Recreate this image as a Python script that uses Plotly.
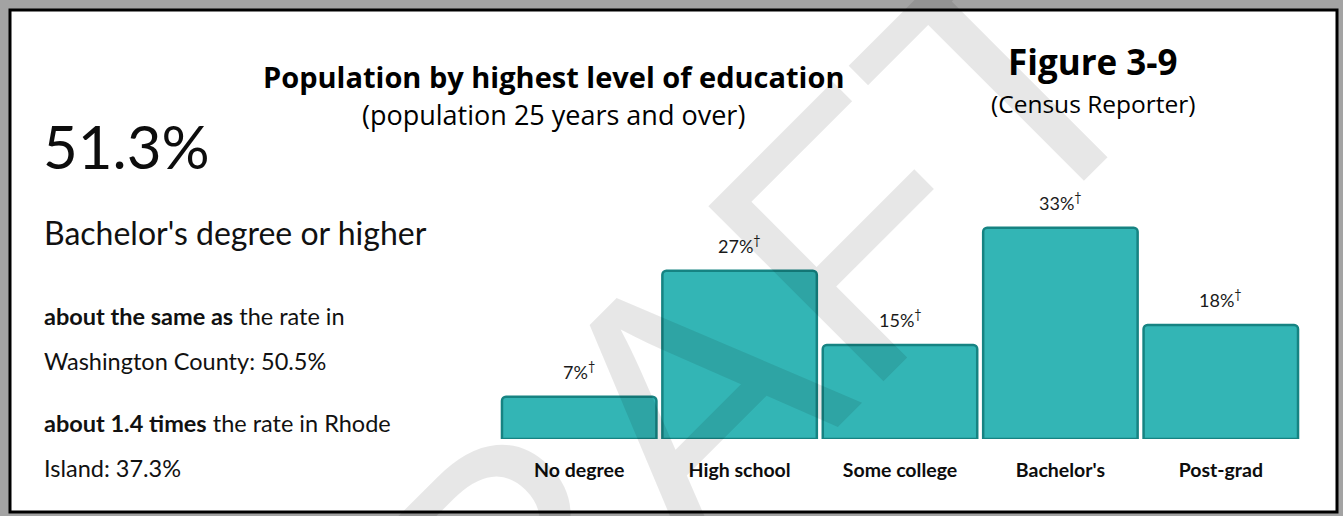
import plotly.graph_objects as go

W, H = 1343, 516

categories = ["No degree", "High school", "Some college", "Bachelor's", "Post-grad"]
values = [6.6, 26.3, 14.7, 33.0, 17.8]
value_labels = ["7%", "27%", "15%", "33%", "18%"]

headline_value = "51.3%"
headline_label = "Bachelor's degree or higher"
comparison_lines = [
    "<b>about the same as</b> the rate in",
    "Washington County: 50.5%",
    "<b>about 1.4 times</b> the rate in Rhode",
    "Island: 37.3%",
]

LATO = "Lato, sans-serif"
SEGOE = "Open Sans, Noto Sans, sans-serif"


def px(x):
    return x / W


def py(y):
    return 1 - y / H


fig = go.Figure()
fig.add_trace(go.Bar(
    x=categories,
    y=values,
    marker=dict(color="#33b5b5", line=dict(color="#168382", width=2.5), cornerradius=4),
    hoverinfo="skip",
))

annotations = []
# value labels above bars (positioned on the data axes)
for c, v, t in zip(categories, values, value_labels):
    annotations.append(dict(x=c, y=v, xref="x", yref="y", text=f"{t}<sup>†</sup>",
                            xanchor="center", yanchor="bottom", yshift=12, showarrow=False,
                            font=dict(family=LATO, size=18, color="#1a1a1a")))

paper_ann = []
paper_ann.append(dict(x=px(41), y=py(146), text=headline_value, xanchor="left", yanchor="middle",
                      font=dict(family=LATO, size=60, color="#0d0d0d")))
paper_ann.append(dict(x=px(42), y=py(232), text=headline_label, xanchor="left", yanchor="middle",
                      font=dict(family=LATO, size=32, color="#111111")))
for txt, yy in zip(comparison_lines, [316, 361, 423, 468]):
    paper_ann.append(dict(x=px(42), y=py(yy), text=txt, xanchor="left", yanchor="middle",
                          font=dict(family=LATO, size=23.5, color="#111111")))

paper_ann.append(dict(x=px(553), y=py(76), text="<b>Population by highest level of education</b>",
                      xanchor="center", yanchor="middle", font=dict(family=SEGOE, size=29, color="#000000")))
paper_ann.append(dict(x=px(553), y=py(115), text="(population 25 years and over)",
                      xanchor="center", yanchor="middle", font=dict(family=SEGOE, size=27, color="#000000")))
paper_ann.append(dict(x=px(1093), y=py(62), text="<b>Figure 3-9</b>",
                      xanchor="center", yanchor="middle", font=dict(family=SEGOE, size=35, color="#000000")))
paper_ann.append(dict(x=px(1093), y=py(103), text="(Census Reporter)",
                      xanchor="center", yanchor="middle", font=dict(family=SEGOE, size=24.5, color="#000000")))

# DRAFT watermark
paper_ann.append(dict(x=px(661), y=py(427), text="DRAFT", textangle=-45,
                      xanchor="center", yanchor="middle",
                      font=dict(family="Liberation Sans, Arial, sans-serif", size=360, color="rgba(0,0,0,0.095)")))

for a in paper_ann:
    a.update(xref="paper", yref="paper", showarrow=False)
annotations += paper_ann

shapes = [
    dict(type="rect", xref="paper", yref="paper", x0=px(10), x1=px(1337), y0=py(512), y1=py(10),
         fillcolor="white", line=dict(color="black", width=3), layer="below"),
]

fig.update_layout(
    width=W, height=H,
    margin=dict(l=0, r=0, t=0, b=0),
    paper_bgcolor="#a3a3a3",
    plot_bgcolor="rgba(0,0,0,0)",
    showlegend=False,
    bargap=0.037,
    annotations=annotations,
    shapes=shapes,
    xaxis=dict(domain=[px(499), px(1301)], range=[-0.5, 4.5], showgrid=False, zeroline=False,
               showline=False, ticks="", ticklabelstandoff=17,
               tickfont=dict(family=LATO, size=19.5, color="#0d0d0d"),
               tickmode="array", tickvals=categories,
               ticktext=[f"<b>{c}</b>" for c in categories]),
    yaxis=dict(domain=[py(439), py(183)], range=[0, 40], visible=False),
)

fig.write_html("out.html", config={"displayModeBar": False, "staticPlot": True},
               post_script="document.body.style.margin='0';document.body.style.background='#a3a3a3';")
